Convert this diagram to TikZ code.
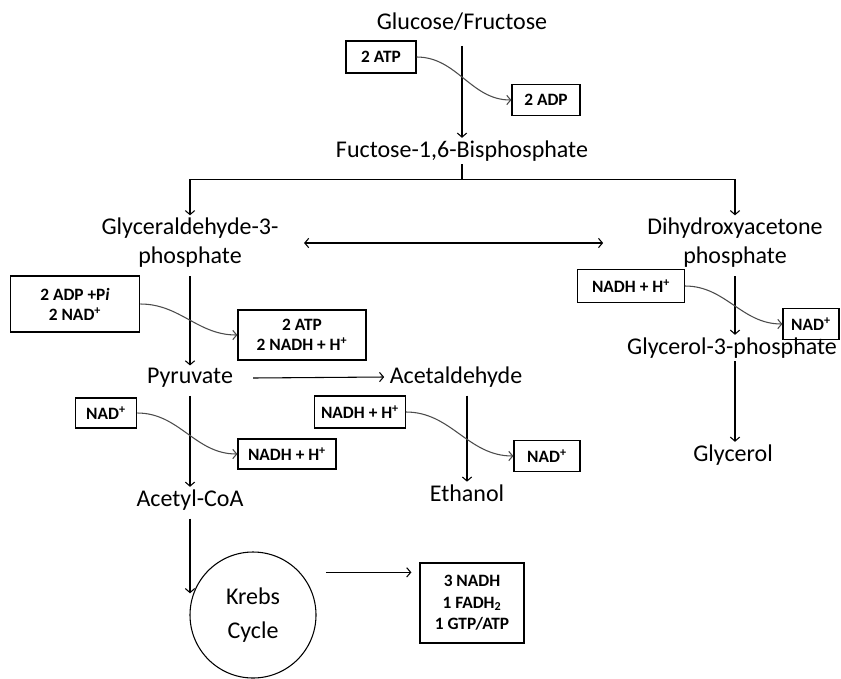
\documentclass[tikz,border=0pt]{standalone}
\usepackage{fontspec}
\setmainfont{Carlito}
\usetikzlibrary{arrows.meta}

\tikzset{
  chem/.style={font=\fontsize{18}{21.75}\selectfont, align=center, inner sep=2pt},
  yieldbox/.style={draw, line width=0.9pt, font=\bfseries\fontsize{13}{15}\selectfont, align=center, inner sep=1pt},
  flow/.style={->, line width=0.8pt},
  side/.style={->, line width=0.8pt, black!70},
  >={Straight Barb[length=3pt,width=7pt]}
}

\begin{document}
\begin{tikzpicture}[x=0.75pt,y=-0.75pt]
\useasboundingbox (0,0) rectangle (841,678);

% main chain
\node[chem] (glucose) at (462,22) {Glucose/Fructose};
\node[chem] (fbp) at (462,151) {Fuctose-1,6-Bisphosphate};
\node[chem] (g3p) at (190,243) {Glyceraldehyde-3-\\phosphate};
\node[chem] (dhap) at (735,243) {Dihydroxyacetone\\phosphate};
\node[chem] (pyruvate) at (190,378) {Pyruvate};
\node[chem] (acetaldehyde) at (456,377) {Acetaldehyde};
\node[chem] (acetyl) at (190,500) {Acetyl-CoA};
\node[chem] (ethanol) at (467,493) {Ethanol};
\node[chem] (g3pol) at (732,348) {Glycerol-3-phosphate};
\node[chem] (glycerol) at (733,455) {Glycerol};
\node[draw, circle, line width=0.8pt, minimum size=94.5pt, align=center,
      font=\fontsize{18}{26}\selectfont] (krebs) at (253,615) {Krebs\\Cycle};

% boxes
\node[yieldbox, minimum width=52.5pt, minimum height=24pt] (atpin) at (381,57) {2 ATP};
\node[yieldbox, minimum width=51pt, minimum height=23pt] (adpout) at (546,100) {2 ADP};
\node[yieldbox, minimum width=97pt, minimum height=42pt] (adpin) at (75,304) {2 ADP +P\textit{i}\\2 NAD\textsuperscript{+}};
\node[yieldbox, minimum width=96pt, minimum height=37.5pt] (atpout) at (302,335) {2 ATP\\2 NADH + H\textsuperscript{+}};
\node[yieldbox, minimum width=46pt, minimum height=22.5pt] (nadin) at (106,413) {NAD\textsuperscript{+}};
\node[yieldbox, minimum width=73.5pt, minimum height=22.5pt] (nadhout) at (287,454) {NADH + H\textsuperscript{+}};
\node[yieldbox, minimum width=68pt, minimum height=24pt] (nadhin) at (360,412) {NADH + H\textsuperscript{+}};
\node[yieldbox, minimum width=49.5pt, minimum height=23pt] (nadout) at (547,456) {NAD\textsuperscript{+}};
\node[yieldbox, minimum width=80pt, minimum height=25pt] (nadhdh) at (631,286) {NADH + H\textsuperscript{+}};
\node[yieldbox, minimum width=42pt, minimum height=23pt] (naddh) at (811,324) {NAD\textsuperscript{+}};
\node[yieldbox, minimum width=78pt, minimum height=60pt, font=\bfseries\fontsize{13}{16}\selectfont] (krebsout) at (472,603) {3 NADH\\1 FADH\textsubscript{2}\\1 GTP/ATP};

% arrows
\draw[flow, shorten <=9pt] (glucose) -- (fbp);
\draw[side] (atpin.east) to[out=0,in=180] (adpout.west);

\draw[line width=0.8pt] (fbp.south) -- ++(0,15) coordinate (split);
\draw[flow] (split) -| (g3p.north);
\draw[flow] (split) -| (dhap.north);
\draw[flow, <->] ([xshift=17pt]g3p.east) -- ([xshift=-31pt]dhap.west);

\draw[flow, shorten <=4pt] (g3p) -- (pyruvate);
\draw[side] (adpin.east) to[out=0,in=180] (atpout.west);

\draw[flow] ([xshift=13pt]pyruvate.east) -- ([xshift=-2pt]acetaldehyde.west);

\draw[flow, shorten <=4pt] (pyruvate) -- (acetyl);
\draw[side] (nadin.east) to[out=0,in=180] (nadhout.west);

\draw[flow, shorten <=4pt] (acetaldehyde.south -| ethanol) -- (ethanol);
\draw[side] (nadhin.east) to[out=0,in=180] (nadout.west);

\draw[flow, shorten <=4pt] (dhap.south) -- (dhap.south |- g3pol.north);
\draw[side] (nadhdh.east) to[out=0,in=180] (naddh.west);
\draw[flow] (g3pol.south -| dhap) -- (glycerol.north -| dhap);

\draw[flow, shorten <=4pt] (acetyl.south) -- (acetyl.south |- krebs.160);
\coordinate (kout) at ([xshift=7pt,yshift=32pt]krebs.east);
\draw[flow] (kout) -- ([xshift=-6pt]krebsout.west |- kout);
\end{tikzpicture}
\end{document}
